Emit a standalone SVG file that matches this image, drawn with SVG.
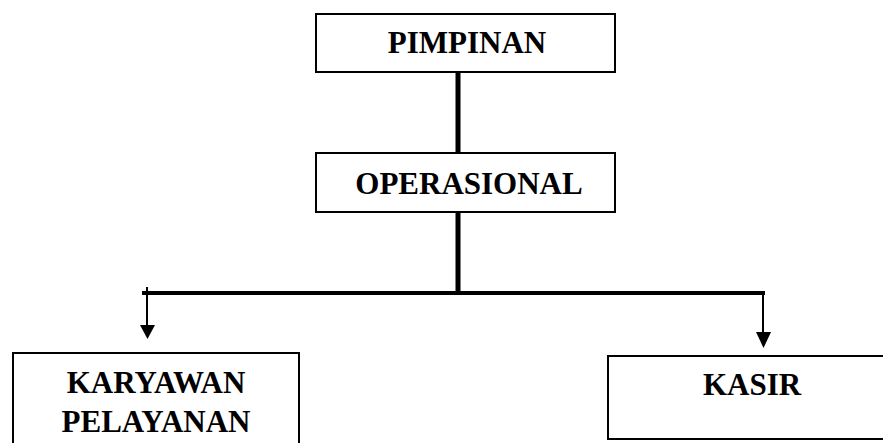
<svg xmlns="http://www.w3.org/2000/svg" width="883" height="443" viewBox="0 0 883 443">
<style>
.box{fill:#fff;stroke:#000;stroke-width:2}
text{font-family:'Liberation Serif',serif;font-weight:700;font-size:31px;fill:#000;text-anchor:middle}
.thick{stroke:#000;stroke-width:5;fill:none}
.mid{stroke:#000;stroke-width:4;fill:none}
.thin{stroke:#000;stroke-width:2;fill:none}
</style>
<rect width="883" height="443" fill="#fff"/>
<g id="connectors">
<line class="thick" x1="458" y1="72" x2="458" y2="153"/>
<line class="thick" x1="458" y1="212" x2="458" y2="293"/>
<line class="mid" x1="142" y1="293" x2="765" y2="293"/>
<line class="thin" x1="147" y1="287" x2="147" y2="326"/>
<polygon points="140,325 155,325 147.5,339" fill="#000"/>
<line class="thin" x1="763" y1="291" x2="763" y2="333"/>
<polygon points="756,332 771,332 763.5,348" fill="#000"/>
</g>
<g id="pimpinan">
<rect class="box" x="316" y="14" width="299" height="58"/>
<text x="467" y="53">PIMPINAN</text>
</g>
<g id="operasional">
<rect class="box" x="316" y="153" width="299" height="59"/>
<text x="469" y="194">OPERASIONAL</text>
</g>
<g id="karyawan">
<rect class="box" x="13" y="353" width="286" height="100"/>
<text x="156" y="393">KARYAWAN</text>
<text x="156" y="432">PELAYANAN</text>
</g>
<g id="kasir">
<rect class="box" x="608" y="356" width="276" height="83"/>
<text x="752" y="395">KASIR</text>
</g>
</svg>
